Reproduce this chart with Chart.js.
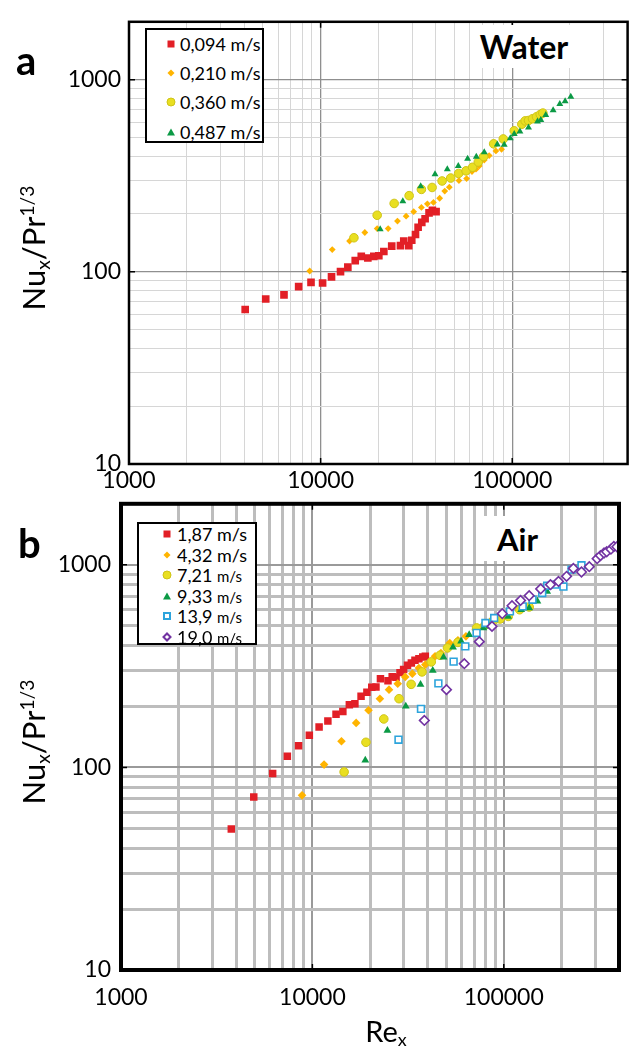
<!DOCTYPE html>
<html>
<head>
<meta charset="utf-8">
<script src="https://cdn.jsdelivr.net/npm/chart.js@4.4.0/dist/chart.umd.min.js"></script>
<style>
  body { margin: 0; background: #fff; font-family: Lato, sans-serif; color: #000; }
  #page { position: relative; width: 633px; height: 1048px; overflow: hidden; }
  canvas { position: absolute; left: 0; }
  .lbl { position: absolute; white-space: nowrap; line-height: 1; }
  .panel { font-weight: bold; font-size: 40px; }
  .tag { position: absolute; background: #fff; display: flex; align-items: center; justify-content: center; font-weight: bold; font-size: 32px; }
  .ytitle { position: absolute; white-space: nowrap; font-size: 31px; transform: translate(-50%, -50%) rotate(-90deg); }
  .ytitle sub, .xtitle sub { font-size: 0.62em; vertical-align: -0.25em; }
  .ytitle sup { font-size: 0.62em; vertical-align: 0.6em; }
  .xtitle { position: absolute; white-space: nowrap; font-size: 29px; transform: translateX(-50%); }
  .legend { position: absolute; background: #fff; border: 2px solid #000; box-sizing: border-box; }
  .row { position: absolute; height: 22px; line-height: 22px; white-space: nowrap; }
  .mk { position: absolute; transform: translate(-50%, -50%); box-sizing: border-box; }
  .sq { width: 7px; height: 7px; background: #e21f26; }
  .dm { width: 5px; height: 5px; background: #ffb400; transform: translate(-50%, -50%) rotate(45deg); }
  .ci { width: 9px; height: 9px; border-radius: 50%; background: #e9df21; border: 1px solid #cfc417; }
  .tr { width: 0; height: 0; border-left: 4px solid transparent; border-right: 4px solid transparent; border-bottom: 7px solid #0b9a45; }
  .hsq { width: 8px; height: 8px; border: 2px solid #2da4dc; background: #fff; }
  .hdm { width: 7px; height: 7px; border: 2px solid #7233a2; background: #fff; transform: translate(-50%, -50%) rotate(45deg); }
</style>
</head>
<body>
<div id="page">
  <canvas id="chartA" width="633" height="500" style="top:0"></canvas>
  <canvas id="chartB" width="633" height="568" style="top:480px"></canvas>

  <div class="lbl panel" style="left:16px; top:40px">a</div>
  <div class="lbl panel" style="left:18px; top:523px">b</div>

  <div class="tag" style="left:472px; top:25px; width:104px; height:43px">Water</div>
  <div class="tag" style="left:482px; top:516px; width:71px; height:45px; font-size:31px">Air</div>

  <div class="ytitle" style="left:34px; top:248px">Nu<sub>x</sub>/Pr<sup>1/3</sup></div>
  <div class="ytitle" style="left:34px; top:742px">Nu<sub>x</sub>/Pr<sup>1/3</sup></div>
  <div class="xtitle" style="left:386px; top:1013px">Re<sub>x</sub></div>

  <div class="legend" id="legA" style="left:145px; top:28px; width:119px; height:115px"></div>
  <div class="legend" id="legB" style="left:137px; top:522px; width:120px; height:123px"></div>
</div>

<script>
// axis ticks and grid
const xGrid = [1000, 2000, 3000, 4000, 5000, 6000, 7000, 8000, 9000,
               10000, 20000, 30000, 40000, 50000, 60000, 70000, 80000, 90000,
               100000, 200000, 300000, 400000];
const yGrid = [10, 20, 30, 40, 50, 60, 70, 80, 90,
               100, 200, 300, 400, 500, 600, 700, 800, 900,
               1000, 2000];
const xTickLabels = ['1000', '10000', '100000'];
const yTickLabels = ['10', '100', '1000'];

// panel a - water
const waterLabels = ['0,094 m/s', '0,210 m/s', '0,360 m/s', '0,487 m/s'];
const waterRe094 = [4040, 5170, 6440, 7680, 8910, 10240, 11400, 12700, 13870, 15160, 16300, 17640, 18950, 20130, 21380, 23500, 26100, 27160, 28840, 29900, 31270, 32270, 33730, 35100, 36800, 38300, 40050];
const waterNu094 = [63.7, 72.2, 75.9, 83.7, 88.1, 87.5, 94.2, 100.2, 105.8, 114.4, 120.3, 118, 120.3, 121.3, 127.6, 136, 136.9, 144.7, 136.9, 145.9, 156.5, 170.6, 180.8, 188.8, 202.6, 208.9, 205.6];
const waterRe210 = [8770, 11500, 14160, 17010, 19730, 22520, 25180, 27940, 30600, 33570, 36070, 38800, 41800, 44440, 46950, 52700, 57800, 61650, 64700, 67300, 71450, 75800, 82200, 87960];
const waterNu210 = [101, 130.6, 144.7, 160.2, 168, 168, 183.6, 194.8, 205.6, 216.3, 225.9, 229.6, 241.5, 263, 275.7, 298.5, 305.5, 332.7, 342, 355.6, 381.6, 402.7, 425.6, 434];
const waterRe360 = [14920, 19730, 24200, 28970, 33570, 38170, 43050, 47740, 52500, 57400, 62100, 66500, 70950, 79980, 89800, 102400, 112200, 116800, 121600, 127600, 133900, 140000, 144500];
const waterNu360 = [150.4, 197, 226.9, 249.1, 268.5, 274.8, 297, 307.6, 325, 335.3, 350, 372.7, 398, 463.5, 491.5, 542, 586, 610, 613, 626, 641, 659, 670];
const waterRe487 = [20460, 26850, 33290, 39540, 45830, 52300, 58500, 64940, 71450, 83530, 90800, 97700, 102400, 109700, 121600, 135500, 141000, 149600, 163500, 177100, 188800, 202100];
const waterNu487 = [166.6, 233.2, 279, 322.2, 342, 355.6, 387.3, 396.7, 419, 460, 459, 495.5, 521, 538, 563.6, 605, 617, 654, 693, 747, 771, 814];

// panel b - air
const airNums = ['1,87', '4,32', '7,21', '9,33', '13,9', '19,0'];
const airRe187 = [3770, 4940, 6200, 7400, 8470, 9640, 10840, 12050, 13290, 14430, 15600, 16680, 17960, 19270, 20430, 21490, 22680, 24830, 26120, 27370, 28700, 29970, 31410, 32900, 34350, 36020, 37740, 38920];
const airNu187 = [49.7, 71.5, 93.2, 113.4, 128, 143.9, 158.4, 169.6, 182.8, 188.5, 204, 206.4, 224.3, 234.7, 248.4, 249.5, 274.2, 268, 280.5, 278.3, 293.6, 303.8, 319, 327.8, 337.5, 344.2, 350.8, 353.2];
const airRe432 = [8830, 11510, 14190, 16930, 19650, 22530, 25140, 27920, 30560, 33290, 36020, 38920, 43750, 46950, 52200, 57600, 63440, 71300, 78700, 86800];
const airNu432 = [72.8, 103.2, 134.6, 165.8, 191.3, 218.3, 242, 259, 279.6, 290.2, 309.7, 321.4, 353.2, 367, 411, 423.6, 443.5, 478.6, 506.5, 536];
const airRe721 = [14650, 19050, 23610, 28360, 32810, 37410, 41800, 46450, 50800, 57600, 72100, 80200, 88500, 95700, 105500, 121000, 135800];
const airNu721 = [95, 133, 173.4, 218.3, 257, 296, 331.6, 357.4, 388.6, 414, 488, 506.5, 530, 540, 556, 600, 619];
const airRe933 = [18900, 24660, 30760, 36730, 42560, 48440, 54300, 59850, 65960, 78200, 84100, 105400, 123300, 135800, 149900, 168600];
const airNu933 = [108.4, 152, 200.2, 256.2, 300.4, 349.3, 391.3, 418.8, 451.9, 488, 498, 556, 600, 612, 660, 739];
const airRe139 = [28180, 36930, 45530, 54700, 62960, 72100, 80200, 89100, 107700, 125600, 141300, 158800, 168600, 185900, 205000, 225900, 254700];
const airNu139 = [137, 194.4, 260, 332.7, 395.5, 460.8, 516, 546.4, 589, 623.6, 672.5, 726, 788, 798, 781, 946, 995];
const airRe190 = [38460, 50200, 62200, 74500, 86800, 98200, 110400, 122400, 135800, 155900, 175400, 193200, 212900, 231000, 254700, 279800, 307600, 320000, 334000, 345000, 363000, 376000, 390000];
const airNu190 = [170.6, 242, 325, 417.6, 496.6, 573.8, 628, 667, 704, 760, 798, 828, 877, 960, 921, 979, 1072, 1110, 1143, 1160, 1194, 1233, 1228];

Chart.defaults.font.family = 'Lato, sans-serif';
Chart.defaults.color = '#000';

const isDecade = v => Math.abs(Math.log10(v) - Math.round(Math.log10(v))) < 1e-9;
const pts = (xs, ys) => xs.map((x, i) => ({x: x, y: ys[i]}));

// black frame round the plot + small decade ticks
const framePlugin = {
  id: 'frame',
  afterDraw(chart, args, opts) {
    const {ctx, chartArea: a, scales} = chart;
    ctx.save();
    ctx.strokeStyle = '#000';
    ctx.lineWidth = opts.width;
    ctx.strokeRect(a.left, a.top, a.right - a.left, a.bottom - a.top);
    ctx.lineWidth = 1.5;
    ctx.beginPath();
    xTickLabels.forEach(t => {
      const x = scales.x.getPixelForValue(Number(t));
      ctx.moveTo(x, a.bottom); ctx.lineTo(x, a.bottom - 6);
      ctx.moveTo(x, a.top); ctx.lineTo(x, a.top + 6);
    });
    yTickLabels.forEach(t => {
      const y = scales.y.getPixelForValue(Number(t));
      ctx.moveTo(a.left, y); ctx.lineTo(a.left + 6, y);
      ctx.moveTo(a.right, y); ctx.lineTo(a.right - 6, y);
    });
    ctx.stroke();
    ctx.restore();
  }
};

function makeScales(g) {
  return {
    x: {
      type: 'logarithmic', min: 1000, max: 400000,
      afterBuildTicks: s => { s.ticks = xGrid.map(v => ({value: v})); },
      afterFit: s => { s.height = g.xHeight; },
      grid: {
        drawTicks: false,
        color: c => isDecade(c.tick.value) ? g.major : g.minor,
        lineWidth: c => isDecade(c.tick.value) ? g.majorW : g.minorW
      },
      border: {display: false},
      ticks: {
        autoSkip: false, maxRotation: 0, padding: g.xPad,
        font: {size: 23},
        callback: v => xTickLabels.includes(String(v)) ? String(v) : ''
      }
    },
    y: {
      type: 'logarithmic', min: 10, max: 2000,
      afterBuildTicks: s => { s.ticks = yGrid.map(v => ({value: v})); },
      afterFit: s => { s.width = g.yWidth; },
      grid: {
        drawTicks: false,
        color: c => isDecade(c.tick.value) ? g.major : g.minor,
        lineWidth: c => isDecade(c.tick.value) ? g.majorW : g.minorW
      },
      border: {display: false},
      ticks: {
        autoSkip: false, padding: g.yPad,
        font: {size: 23},
        callback: v => yTickLabels.includes(String(v)) ? String(v) : ''
      }
    }
  };
}

function ds(data, style, r, fill, border, bw, order) {
  return {
    data: data, showLine: false, pointStyle: style, pointRadius: r, pointHoverRadius: r,
    backgroundColor: fill, borderColor: border, borderWidth: bw, order: order
  };
}

new Chart(document.getElementById('chartA'), {
  type: 'scatter',
  data: {
    datasets: [
      ds(pts(waterRe094, waterNu094), 'rect', 5.4, '#e21f26', '#e21f26', 0, 4),
      ds(pts(waterRe210, waterNu210), 'rectRot', 3.4, '#ffb400', '#ffb400', 0, 3),
      ds(pts(waterRe360, waterNu360), 'circle', 4.3, '#e9df21', '#cfc417', 1, 2),
      ds(pts(waterRe487, waterNu487), 'triangle', 4, '#0b9a45', '#0b9a45', 0, 1)
    ]
  },
  options: {
    responsive: false, animation: false,
    layout: {padding: {top: 12, right: 4, left: 0, bottom: 0}},
    plugins: {legend: {display: false}, tooltip: {enabled: false}, frame: {width: 2.5}},
    scales: makeScales({xHeight: 36, yWidth: 129, xPad: 3, yPad: 8,
      major: '#8f8f8f', minor: '#d6d6d6', majorW: 1.3, minorW: 1})
  },
  plugins: [framePlugin]
});

new Chart(document.getElementById('chartB'), {
  type: 'scatter',
  data: {
    datasets: [
      ds(pts(airRe187, airNu187), 'rect', 5.3, '#e21f26', '#e21f26', 0, 6),
      ds(pts(airRe432, airNu432), 'rectRot', 4.3, '#ffb400', '#ffb400', 0, 5),
      ds(pts(airRe721, airNu721), 'circle', 4.3, '#e9df21', '#cfc417', 1, 4),
      ds(pts(airRe933, airNu933), 'triangle', 4.5, '#0b9a45', '#0b9a45', 0, 3),
      ds(pts(airRe139, airNu139), 'rect', 4.8, '#fff', '#2da4dc', 1.6, 2),
      ds(pts(airRe190, airNu190), 'rectRot', 4.8, '#fff', '#7233a2', 1.6, 1)
    ]
  },
  options: {
    responsive: false, animation: false,
    layout: {padding: {top: 23, right: 1, left: 0, bottom: 0}},
    plugins: {legend: {display: false}, tooltip: {enabled: false}, frame: {width: 4}},
    scales: makeScales({xHeight: 78, yWidth: 121, xPad: 14, yPad: 10,
      major: '#9a9a9a', minor: '#bdbdbd', majorW: 2, minorW: 3})
  },
  plugins: [framePlugin]
});

// legends (html)
const legA = document.getElementById('legA');
const markA = ['sq', 'dm', 'ci', 'tr'];
waterLabels.forEach((t, i) => {
  const cy = [44, 73, 102, 132][i] - 28 - 2;
  legA.innerHTML += `<div class="mk ${markA[i]}" style="left:${171 - 145 - 2}px; top:${cy}px"></div>` +
    `<div class="row" style="left:${180 - 145 - 2}px; top:${cy - 11}px; font-size:18px">${t}</div>`;
});

const legB = document.getElementById('legB');
const markB = ['sq', 'dm', 'ci', 'tr', 'hsq', 'hdm'];
airNums.forEach((t, i) => {
  const cy = 534 + i * 20.5 - 522 - 2;
  const unit = i < 2 ? 18 : 15;
  legB.innerHTML += `<div class="mk ${markB[i]}" style="left:${167 - 137 - 2}px; top:${cy}px"></div>` +
    `<div class="row" style="left:${177 - 137 - 2}px; top:${cy - 11}px; font-size:18px">${t} <span style="font-size:${unit}px">m/s</span></div>`;
});
</script>
</body>
</html>
